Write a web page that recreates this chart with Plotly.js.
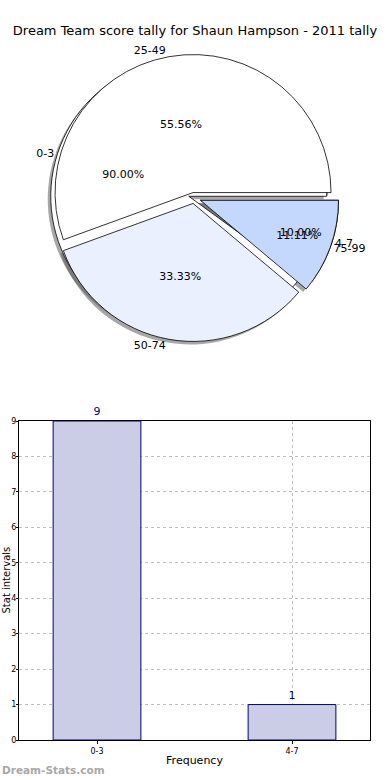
<!DOCTYPE html>
<html><head><meta charset="utf-8">
<script src="https://cdn.plot.ly/plotly-3.0.1.min.js"></script>
<style>html,body{margin:0;padding:0;background:#fff}#chart{width:390px;height:780px}</style>
</head><body><div id="chart"></div>
<script>
// ---- data ----
const chartTitle = 'Dream Team score tally for Shaun Hampson - 2011 tally';
const pieALabels = ['0-3', '4-7'];
const pieAValues = [9, 1];
const pieBLabels = ['25-49', '50-74', '75-99'];
const pieBValues = [5, 3, 1];
const barCategories = ['0-3', '4-7'];
const barValues = [9, 1];
const yTickValues = [0, 1, 2, 3, 4, 5, 6, 7, 8, 9];

// ---- styles ----
const W = 390, H = 780;
const FONT = 'DejaVu Sans, Liberation Sans, sans-serif';
const pieAColors = ['#ffffff', '#eaf0fe'];
const pieBColors = ['#ffffff', '#eaf0fe', '#c4d8fe'];
const pieAPull = [0.04, 0.05];
const pieBPull = [0.04, 0.04, 0.05];
const CLEAR = 'rgba(0,0,0,0)';

function dom(cx, cy, half) {
  return {x: [(cx - half) / W, (cx + half) / W], y: [1 - (cy + half) / H, 1 - (cy - half) / H]};
}
// Plotly (counterclockwise) ends the first slice at `rotation`; start the first slice at 3 o'clock instead
function startAt3(values) {
  const total = values.reduce((a, b) => a + b, 0);
  return 90 - 360 * values[0] / total;
}
const pieCX = 194, pieCY = 198, pieHalf = 138 * 1.05;
const mainDom = dom(pieCX, pieCY, pieHalf);
const shadowDom = dom(pieCX - 3, pieCY + 3, pieHalf);

const common = {type: 'pie', sort: false, direction: 'counterclockwise',
  showlegend: false, hoverinfo: 'skip', insidetextorientation: 'horizontal'};

function pieA(opts) { return Object.assign({labels: pieALabels, values: pieAValues, pull: pieAPull,
  rotation: startAt3(pieAValues), domain: mainDom}, common, opts); }
function pieB(opts) { return Object.assign({labels: pieBLabels, values: pieBValues, pull: pieBPull,
  rotation: startAt3(pieBValues), domain: mainDom}, common, opts); }

const traces = [
  // shadows
  pieA({domain: shadowDom, marker: {colors: pieALabels.map(() => 'rgba(80,80,80,0.5)'), line: {width: 0}}, textinfo: 'none'}),
  pieB({domain: shadowDom, marker: {colors: pieBLabels.map(() => 'rgba(80,80,80,0.5)'), line: {width: 0}}, textinfo: 'none'}),
  // wedges
  pieA({marker: {colors: pieAColors, line: {color: '#000', width: 0.8}}, textinfo: 'none'}),
  pieB({marker: {colors: pieBColors, line: {color: '#000', width: 0.8}}, textinfo: 'none'}),
  // percentages
  pieA({marker: {colors: pieALabels.map(() => CLEAR), line: {width: 0}},
    texttemplate: '%{percent:.2%}', textposition: 'inside',
    insidetextfont: {family: FONT, size: 11, color: '#000'}}),
  pieB({marker: {colors: pieBLabels.map(() => CLEAR), line: {width: 0}},
    texttemplate: '%{percent:.2%}', textposition: 'inside',
    insidetextfont: {family: FONT, size: 11, color: '#000'}}),
  // outside labels
  pieA({marker: {colors: pieALabels.map(() => CLEAR), line: {width: 0}},
    texttemplate: '%{label}', textposition: 'outside',
    outsidetextfont: {family: FONT, size: 11, color: '#000'}}),
  pieB({marker: {colors: pieBLabels.map(() => CLEAR), line: {width: 0}},
    texttemplate: '%{label}', textposition: 'outside',
    outsidetextfont: {family: FONT, size: 11, color: '#000'}}),
  // bars
  {type: 'bar', x: barCategories, y: barValues, width: 0.45, showlegend: false,
    marker: {color: '#cbcce5', line: {color: '#000080', width: 1}},
    text: barValues.map(String), textposition: 'outside', cliponaxis: false,
    textfont: {family: FONT, size: 11, color: '#000080'}, hoverinfo: 'skip'}
];

const layout = {
  width: W, height: H,
  margin: {l: 0, r: 0, t: 0, b: 0},
  paper_bgcolor: '#fff', plot_bgcolor: '#fff',
  font: {family: FONT, color: '#000'},
  title: {text: chartTitle, font: {family: FONT, size: 13, color: '#000'},
    x: 0.5, xanchor: 'center', y: 1 - 30 / H, yanchor: 'middle', xref: 'paper', yref: 'paper'},
  xaxis: {domain: [19 / W, 370 / W], type: 'category', range: [-0.4, 1.4],
    showline: true, mirror: true, linecolor: '#000', linewidth: 1,
    showgrid: true, gridcolor: '#c0c0c0', griddash: 'dot', gridwidth: 1,
    ticks: 'outside', ticklen: 3, tickcolor: '#000', tickfont: {family: FONT, size: 8},
    title: {text: 'Frequency', font: {family: FONT, size: 11}, standoff: 1},
    zeroline: false, fixedrange: true},
  yaxis: {domain: [1 - 740 / H, 1 - 421 / H], range: [0, 9], tickvals: yTickValues,
    showline: true, mirror: true, linecolor: '#000', linewidth: 1,
    showgrid: true, gridcolor: '#c0c0c0', griddash: 'dot', gridwidth: 1,
    ticks: 'outside', ticklen: 2, tickcolor: '#000', tickfont: {family: FONT, size: 8},
    ticklabelstandoff: -2,
    zeroline: false, fixedrange: true},
  annotations: [
    {text: 'Stat intervals', xref: 'paper', yref: 'paper', x: 5.5 / W, y: 1 - 580 / H,
      xanchor: 'center', yanchor: 'middle', textangle: -90, showarrow: false,
      font: {family: FONT, size: 10, color: '#000'}},
    {text: 'Dream-Stats.com', xref: 'paper', yref: 'paper', x: 0, y: 1 - 770 / H,
      xanchor: 'left', yanchor: 'middle', showarrow: false,
      font: {family: FONT, size: 10.5, color: '#a8a8a8', weight: 'bold'}}
  ]
};

Plotly.newPlot('chart', traces, layout, {displayModeBar: false, staticPlot: true});
</script></body></html>
